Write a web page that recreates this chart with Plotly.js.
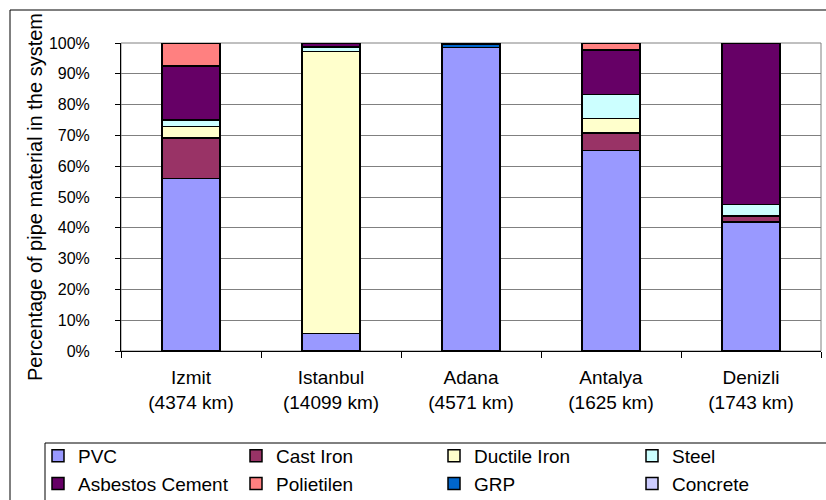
<!DOCTYPE html>
<html>
<head>
<meta charset="utf-8">
<script src="https://cdn.plot.ly/plotly-3.0.1.min.js"></script>
<style>html,body{margin:0;padding:0;background:#fff;}#chart{width:826px;height:500px;}</style>
</head>
<body>
<div id="chart"></div>
<script>
const categories = ['Izmit<br>(4374 km)', 'Istanbul<br>(14099 km)', 'Adana<br>(4571 km)', 'Antalya<br>(1625 km)', 'Denizli<br>(1743 km)'];
const pvc        = [56.0, 5.7, 98.5, 65.1, 41.9];
const castIron   = [13.2, 0, 0, 5.7, 2.0];
const ductile    = [3.7, 91.5, 0, 4.7, 0];
const steel      = [2.1, 1.5, 0, 7.7, 3.6];
const asbestos   = [17.6, 1.3, 0, 14.6, 52.5];
const polietilen = [7.4, 0, 0, 2.2, 0];
const grp        = [0, 0, 1.0, 0, 0];
const concrete   = [0, 0, 0.5, 0, 0];
const yTicks = [0, 10, 20, 30, 40, 50, 60, 70, 80, 90, 100];

const series = [
  ['PVC', pvc, '#9999FF'],
  ['Cast Iron', castIron, '#993366'],
  ['Ductile Iron', ductile, '#FFFFCC'],
  ['Steel', steel, '#CCFFFF'],
  ['Asbestos Cement', asbestos, '#660066'],
  ['Polietilen', polietilen, '#FF8080'],
  ['GRP', grp, '#0066CC'],
  ['Concrete', concrete, '#CCCCFF']
];

const legendIds = ['legend', 'legend2', 'legend3', 'legend4'];

const traces = series.map((s, i) => ({
  type: 'bar', name: s[0], x: categories, y: s[1],
  legend: legendIds[i % 4], legendgroup: 'g' + i,
  marker: {color: s[2], line: {color: '#000', width: 1.5}}
}));

// pixel helpers for the layout (plot area 121..821 x 43..351)
const L = 121, R = 821, T = 43, B = 351;
const px = v => (v - L) / (R - L);
const py = v => (B - v) / (B - T);

const legendCols = [38, 236, 434, 632];
const legendBase = col => ({
  orientation: 'v', xref: 'paper', yref: 'container',
  x: px(col), xanchor: 'left', y: (500 - 437) / 500, yanchor: 'top',
  traceorder: 'normal', tracegroupgap: 7,
  font: {size: 19}, bgcolor: 'rgba(0,0,0,0)', borderwidth: 0
});

const layout = {
  width: 826, height: 500,
  margin: {l: L, r: 826 - R, t: T, b: 500 - B},
  paper_bgcolor: '#fff', plot_bgcolor: '#fff',
  barmode: 'stack', bargap: 0.586,
  font: {family: 'Liberation Sans, Arial, sans-serif', color: '#000', size: 16},
  showlegend: true,
  legend: legendBase(legendCols[0]),
  legend2: legendBase(legendCols[1]),
  legend3: legendBase(legendCols[2]),
  legend4: legendBase(legendCols[3]),
  xaxis: {
    type: 'category', showline: true, linecolor: '#000', linewidth: 1,
    ticks: 'outside', tickson: 'boundaries', ticklen: 6, tickcolor: '#000',
    tickfont: {size: 19}, ticklabelstandoff: 9, showgrid: false, fixedrange: true
  },
  yaxis: {
    range: [0, 100], tickvals: yTicks, ticktext: yTicks.map(v => v + '%'),
    showline: true, linecolor: '#000', linewidth: 1,
    ticks: 'outside', ticklen: 5, tickcolor: '#000', tickfont: {size: 16},
    ticklabelstandoff: 22,
    showgrid: true, gridcolor: '#808080', gridwidth: 1, zeroline: false,
    title: {text: 'Percentage of pipe material in the system', font: {size: 20}, standoff: 0},
    fixedrange: true
  },
  shapes: [
    {type: 'rect', xref: 'paper', yref: 'paper', x0: 0, x1: 1, y0: 0, y1: 1,
     line: {color: '#808080', width: 1}, layer: 'below'},
    {type: 'rect', xref: 'paper', yref: 'paper', x0: px(10), x1: px(840), y0: py(520), y1: py(10),
     line: {color: '#000', width: 1}, fillcolor: 'rgba(0,0,0,0)'},
    {type: 'rect', xref: 'paper', yref: 'paper', x0: px(45), x1: px(840), y0: py(520), y1: py(443),
     line: {color: '#000', width: 1}, fillcolor: 'rgba(0,0,0,0)'}
  ]
};

Plotly.newPlot('chart', traces, layout, {staticPlot: true, displayModeBar: false});
</script>
</body>
</html>
